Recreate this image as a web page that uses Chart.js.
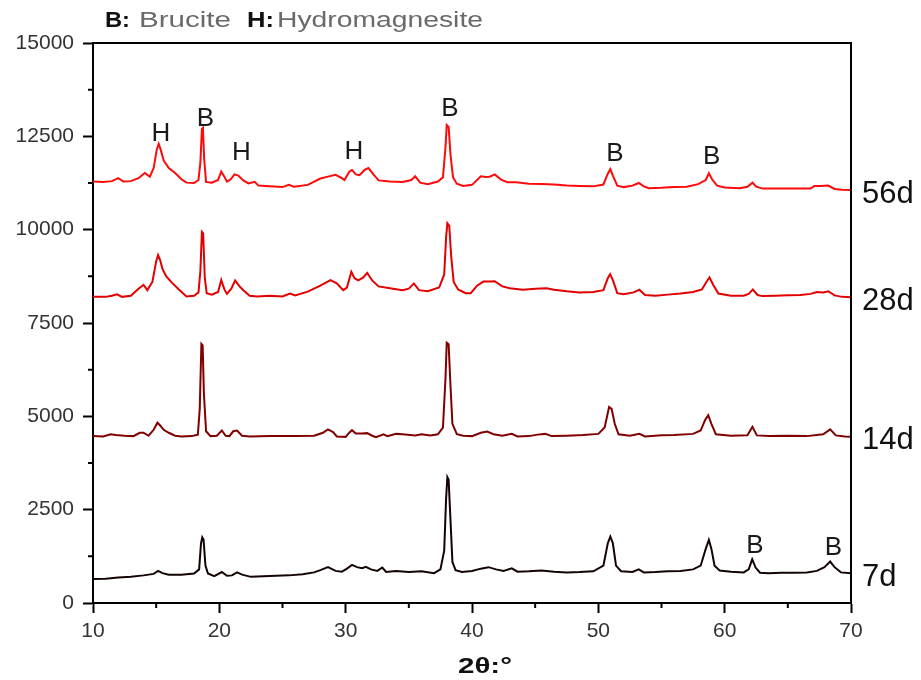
<!DOCTYPE html>
<html>
<head>
<meta charset="utf-8">
<title>XRD patterns</title>
<script src="https://cdn.jsdelivr.net/npm/chart.js@4/dist/chart.umd.min.js"></script>
<style>
  html, body { margin: 0; padding: 0; background: #fff; }
  canvas { display: block; }
</style>
</head>
<body>
<canvas id="xrdChart" width="921" height="680"></canvas>
<script>
// XRD scans, 2θ (deg) vs intensity (counts), offset per curing age
const angle56 = [10.0, 10.8, 11.5, 12.0, 12.4, 13.0, 13.6, 14.1, 14.5, 14.8, 15.05, 15.2, 15.35, 15.6, 16.0, 16.5, 17.0, 17.4, 18.0, 18.35, 18.5, 18.62, 18.7, 18.8, 18.95, 19.4, 19.9, 20.15, 20.4, 20.6, 20.9, 21.2, 21.5, 21.9, 22.3, 22.8, 23.1, 24.0, 25.0, 25.5, 25.9, 27.0, 28.0, 28.6, 29.2, 29.7, 29.9, 30.3, 30.5, 30.8, 31.1, 31.5, 31.8, 32.2, 32.6, 33.5, 34.5, 35.2, 35.5, 35.9, 36.5, 37.3, 37.7, 37.9, 38.0, 38.15, 38.3, 38.5, 38.8, 39.3, 40.0, 40.7, 41.1, 41.4, 41.8, 42.3, 42.8, 43.5, 44.5, 45.5, 46.5, 47.5, 48.5, 49.6, 50.4, 50.75, 50.95, 51.15, 51.5, 52.0, 52.7, 53.2, 53.6, 54.0, 55.0, 56.0, 57.0, 57.9, 58.5, 58.75, 59.0, 59.4, 60.0, 61.2, 61.8, 62.2, 62.5, 63.0, 64.0, 65.0, 66.0, 66.8, 67.1, 67.6, 68.2, 68.7, 69.3, 70.0];
const counts56 = [11290, 11280, 11300, 11380, 11290, 11300, 11380, 11520, 11420, 11650, 12150, 12300, 12150, 11850, 11650, 11520, 11350, 11260, 11250, 11330, 11800, 12700, 12730, 11900, 11280, 11260, 11330, 11560, 11420, 11290, 11350, 11480, 11450, 11320, 11240, 11280, 11180, 11160, 11140, 11200, 11150, 11200, 11370, 11420, 11470, 11380, 11330, 11560, 11600, 11480, 11460, 11600, 11650, 11480, 11320, 11290, 11280, 11330, 11430, 11260, 11220, 11290, 11400, 12200, 12800, 12750, 12000, 11400, 11230, 11170, 11200, 11430, 11410, 11420, 11480, 11340, 11270, 11270, 11230, 11220, 11210, 11180, 11170, 11160, 11210, 11500, 11620, 11450, 11180, 11140, 11180, 11250, 11160, 11110, 11120, 11140, 11150, 11220, 11330, 11510, 11350, 11180, 11130, 11110, 11150, 11260, 11150, 11100, 11100, 11100, 11100, 11100, 11170, 11170, 11180, 11090, 11070, 11060];

const angle28 = [10.0, 11.0, 11.5, 11.9, 12.3, 13.0, 13.6, 14.0, 14.3, 14.7, 15.0, 15.15, 15.3, 15.5, 15.8, 16.3, 16.8, 17.4, 18.0, 18.35, 18.5, 18.62, 18.72, 18.85, 19.0, 19.4, 19.9, 20.15, 20.4, 20.6, 20.95, 21.25, 21.6, 21.9, 22.4, 23.0, 24.0, 25.0, 25.6, 26.0, 27.0, 28.0, 28.8, 29.3, 29.8, 30.1, 30.45, 30.7, 31.0, 31.4, 31.7, 32.1, 32.6, 33.5, 34.5, 35.0, 35.4, 35.8, 36.5, 37.4, 37.8, 37.95, 38.05, 38.2, 38.35, 38.55, 38.9, 39.5, 39.9, 40.4, 40.9, 41.4, 41.8, 42.4, 43.0, 44.0, 45.0, 45.9, 46.5, 47.5, 48.5, 49.6, 50.4, 50.75, 50.93, 51.15, 51.5, 52.0, 52.8, 53.25, 53.7, 54.5, 55.5, 56.5, 57.5, 58.2, 58.55, 58.8, 59.1, 59.5, 60.5, 61.5, 61.9, 62.23, 62.6, 63.0, 64.0, 65.0, 66.0, 66.8, 67.3, 67.8, 68.2, 68.7, 69.3, 70.0];
const counts28 = [8200, 8200, 8230, 8270, 8200, 8230, 8420, 8520, 8380, 8600, 9150, 9320, 9200, 8950, 8750, 8560, 8400, 8210, 8230, 8320, 8900, 9940, 9900, 8700, 8300, 8260, 8330, 8650, 8400, 8280, 8420, 8640, 8480, 8380, 8230, 8210, 8230, 8210, 8290, 8240, 8340, 8500, 8650, 8560, 8380, 8450, 8870, 8700, 8640, 8720, 8840, 8640, 8480, 8430, 8380, 8420, 8560, 8380, 8350, 8450, 8800, 9800, 10170, 10100, 9300, 8600, 8400, 8300, 8300, 8500, 8610, 8610, 8620, 8480, 8430, 8390, 8420, 8430, 8390, 8350, 8320, 8330, 8380, 8700, 8810, 8650, 8300, 8270, 8320, 8390, 8250, 8230, 8260, 8290, 8330, 8400, 8600, 8720, 8520, 8290, 8230, 8230, 8280, 8400, 8250, 8220, 8230, 8240, 8250, 8280, 8330, 8320, 8350, 8240, 8200, 8190];

const angle14 = [10.0, 10.8, 11.4, 11.8, 12.5, 13.2, 13.7, 14.0, 14.4, 14.8, 15.1, 15.3, 15.6, 16.0, 16.5, 17.0, 17.8, 18.3, 18.45, 18.58, 18.68, 18.78, 18.95, 19.3, 19.8, 20.2, 20.5, 20.8, 21.1, 21.4, 21.8, 22.4, 24.0, 26.0, 27.5, 28.2, 28.6, 29.0, 29.3, 30.0, 30.3, 30.5, 30.8, 31.3, 31.7, 32.1, 32.4, 33.0, 33.3, 34.0, 34.5, 35.5, 36.0, 36.7, 37.3, 37.7, 37.9, 38.0, 38.15, 38.3, 38.45, 38.8, 39.3, 40.0, 40.7, 41.2, 41.7, 42.4, 43.15, 43.6, 44.5, 45.2, 45.8, 46.3, 47.5, 48.8, 50.0, 50.5, 50.85, 51.05, 51.3, 51.6, 52.5, 53.25, 53.7, 55.0, 56.0, 57.5, 58.1, 58.45, 58.7, 58.95, 59.3, 60.5, 61.8, 62.2, 62.55, 63.5, 65.0, 66.5, 67.8, 68.35, 68.8, 69.5, 70.0];
const counts14 = [4470, 4460, 4520, 4500, 4480, 4470, 4560, 4560, 4480, 4640, 4830, 4760, 4640, 4560, 4480, 4460, 4470, 4510, 5200, 6940, 6900, 5600, 4600, 4470, 4480, 4620, 4480, 4470, 4600, 4620, 4480, 4460, 4470, 4470, 4480, 4560, 4650, 4580, 4460, 4450, 4570, 4630, 4540, 4540, 4550, 4480, 4440, 4520, 4470, 4530, 4520, 4490, 4520, 4490, 4520, 4700, 6000, 6970, 6930, 5800, 4800, 4520, 4480, 4470, 4560, 4590, 4520, 4480, 4530, 4460, 4470, 4510, 4530, 4470, 4480, 4500, 4530, 4700, 5250, 5200, 4800, 4520, 4480, 4530, 4460, 4490, 4500, 4530, 4620, 4900, 5030, 4800, 4520, 4480, 4490, 4720, 4490, 4470, 4480, 4470, 4520, 4650, 4490, 4460, 4450];

const angle7 = [10.0, 11.0, 12.0, 13.0, 14.0, 14.8, 15.15, 15.5, 16.0, 17.0, 18.0, 18.4, 18.55, 18.65, 18.75, 18.9, 19.1, 19.6, 20.2, 20.6, 21.0, 21.4, 21.8, 22.5, 24.0, 25.5, 26.6, 27.5, 28.0, 28.6, 29.2, 29.7, 30.1, 30.5, 30.9, 31.3, 31.6, 32.0, 32.5, 32.9, 33.2, 34.0, 35.0, 36.0, 37.0, 37.5, 37.8, 37.95, 38.05, 38.15, 38.3, 38.45, 38.7, 39.2, 40.0, 40.7, 41.3, 41.9, 42.5, 43.15, 43.6, 44.5, 45.5, 46.5, 47.5, 48.5, 49.6, 50.4, 50.75, 50.95, 51.15, 51.4, 51.8, 52.7, 53.2, 53.6, 54.5, 55.5, 56.5, 57.5, 58.1, 58.5, 58.75, 58.95, 59.2, 59.6, 60.5, 61.5, 61.9, 62.18, 62.45, 62.8, 63.5, 64.5, 65.5, 66.5, 67.3, 67.9, 68.35, 68.7, 69.2, 70.0];
const counts7 = [640, 650, 680, 700, 740, 780, 860, 800, 760, 760, 790, 900, 1600, 1760, 1700, 1000, 790, 720, 830, 730, 740, 820, 760, 700, 720, 740, 770, 820, 880, 960, 860, 840, 920, 1020, 960, 930, 970, 900, 860, 950, 830, 860, 830, 850, 800, 900, 1400, 2800, 3370, 3300, 2200, 1100, 880, 830, 860, 920, 960, 900, 860, 930, 840, 850, 870, 840, 820, 830, 850, 1000, 1600, 1780, 1600, 1000, 850, 830, 900, 820, 830, 850, 860, 900, 1000, 1450, 1690, 1450, 1000, 870, 840, 820, 900, 1170, 950, 810, 800, 810, 810, 820, 860, 960, 1110, 960, 820, 800];

const seriesNames = ['56d', '28d', '14d', '7d'];
const seriesColors = ['#ff0a0a', '#e20000', '#800000', '#140303'];

const xTicks = [10, 20, 30, 40, 50, 60, 70];
const yTicks = [0, 2500, 5000, 7500, 10000, 12500, 15000];

// phase markers: letter, 2θ, counts
const phaseLabels = [
  ['H', 15.37, 12560], ['B', 18.89, 12980], ['H', 21.74, 12050], ['H', 30.66, 12090],
  ['B', 38.26, 13250], ['B', 51.32, 12030], ['B', 58.97, 11950],
  ['B', 62.40, 1530], ['B', 68.60, 1465]
];

function toPoints(xs, ys) {
  return xs.map((x, i) => ({ x: x, y: ys[i] }));
}

const scans = [
  toPoints(angle56, counts56),
  toPoints(angle28, counts28),
  toPoints(angle14, counts14),
  toPoints(angle7, counts7)
];

const FONT = 'Arial, "Liberation Sans", Helvetica, sans-serif';

// draw text squeezed/stretched to a given width
function fitText(ctx, text, x, baseline, width) {
  const w = ctx.measureText(text).width;
  ctx.save();
  ctx.translate(x, baseline);
  ctx.scale(width / w, 1);
  ctx.fillText(text, 0, 0);
  ctx.restore();
}

const decorations = {
  id: 'decorations',
  afterDraw(chart) {
    const ctx = chart.ctx;
    const xs = chart.scales.x, ys = chart.scales.y;
    const a = chart.chartArea;
    ctx.save();

    // frame top and right
    ctx.strokeStyle = '#000';
    ctx.lineWidth = 2;
    ctx.beginPath();
    ctx.moveTo(a.left, a.top);
    ctx.lineTo(a.right, a.top);
    ctx.lineTo(a.right, a.bottom);
    ctx.stroke();

    // minor ticks
    ctx.beginPath();
    for (let v = 15; v < 70; v += 10) {
      const px = xs.getPixelForValue(v);
      ctx.moveTo(px, a.bottom);
      ctx.lineTo(px, a.bottom + 5);
    }
    for (let v = 1250; v < 15000; v += 2500) {
      const py = ys.getPixelForValue(v);
      ctx.moveTo(a.left, py);
      ctx.lineTo(a.left - 5, py);
    }
    ctx.stroke();

    // phase letters
    ctx.fillStyle = '#1a1a1a';
    ctx.font = '26px ' + FONT;
    ctx.textAlign = 'center';
    ctx.textBaseline = 'middle';
    phaseLabels.forEach(([t, x, y]) => {
      ctx.fillText(t, xs.getPixelForValue(x), ys.getPixelForValue(y));
    });

    // curing age next to the end of each scan
    ctx.fillStyle = '#111';
    ctx.font = '31px ' + FONT;
    ctx.textAlign = 'left';
    scans.forEach((pts, i) => {
      const last = pts[pts.length - 1];
      ctx.fillText(seriesNames[i], a.right + 11, ys.getPixelForValue(last.y) + 4);
    });

    // header key
    ctx.textBaseline = 'alphabetic';
    ctx.font = 'bold 22px ' + FONT;
    ctx.fillStyle = '#111';
    fitText(ctx, 'B:', 105, 27, 25);
    fitText(ctx, 'H:', 247, 27, 27);
    ctx.font = '22px ' + FONT;
    ctx.fillStyle = '#6a6a6a';
    fitText(ctx, 'Brucite', 139, 27, 92);
    fitText(ctx, 'Hydromagnesite', 277, 27, 206);

    // x axis title
    ctx.font = 'bold 22px ' + FONT;
    ctx.fillStyle = '#111';
    fitText(ctx, '2θ:°', 458, 673, 54);

    ctx.restore();
  }
};

new Chart(document.getElementById('xrdChart').getContext('2d'), {
  type: 'line',
  data: {
    datasets: scans.map((pts, i) => ({
      label: seriesNames[i],
      data: pts,
      borderColor: seriesColors[i],
      borderWidth: 2,
      pointRadius: 0,
      tension: 0,
      fill: false
    }))
  },
  options: {
    responsive: false,
    animation: false,
    layout: { padding: { top: 43, right: 70, left: 0, bottom: 0 } },
    plugins: {
      legend: { display: false },
      tooltip: { enabled: false }
    },
    scales: {
      x: {
        type: 'linear',
        min: 10,
        max: 70,
        afterBuildTicks(s) { s.ticks = xTicks.map(v => ({ value: v })); },
        afterFit(s) { s.height = 77; },
        ticks: { color: '#333', font: { size: 21, family: FONT }, padding: 6, autoSkip: false, maxRotation: 0,
                 callback: v => String(v) },
        grid: { drawOnChartArea: false, tickLength: 10, tickWidth: 2, tickColor: '#000' },
        border: { display: true, color: '#000', width: 2 }
      },
      y: {
        type: 'linear',
        min: 0,
        max: 15000,
        afterBuildTicks(s) { s.ticks = yTicks.map(v => ({ value: v })); },
        afterFit(s) { s.width = 93; },
        ticks: { color: '#333', font: { size: 21, family: FONT }, padding: 9, autoSkip: false,
                 callback: v => String(v) },
        grid: { drawOnChartArea: false, tickLength: 10, tickWidth: 2, tickColor: '#000' },
        border: { display: true, color: '#000', width: 2 }
      }
    }
  },
  plugins: [decorations]
});
</script>
</body>
</html>
